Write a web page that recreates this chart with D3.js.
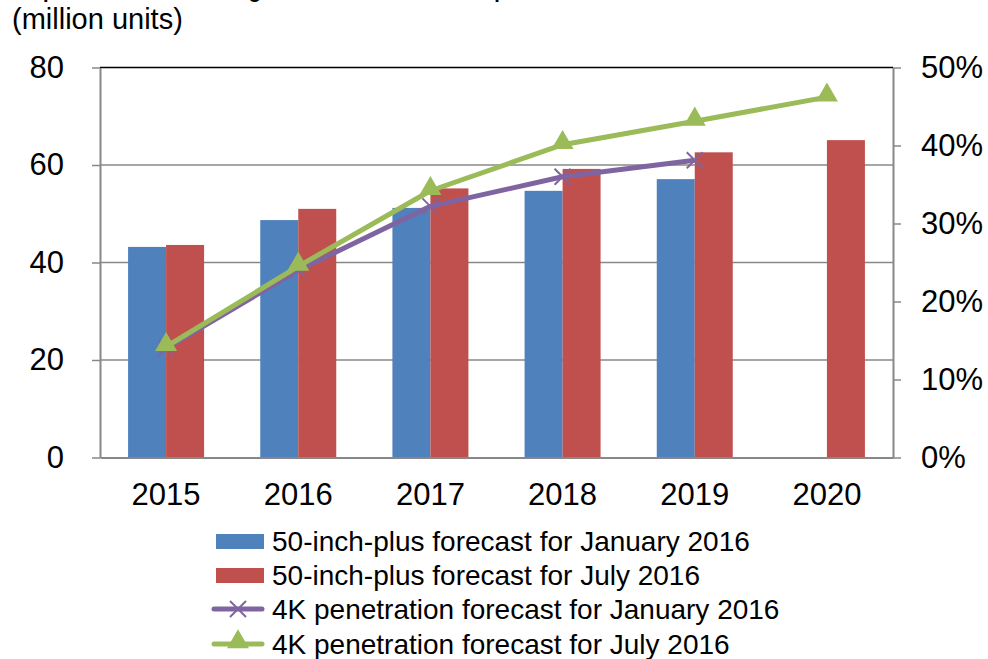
<!DOCTYPE html>
<html>
<head>
<meta charset="utf-8">
<script src="https://cdn.jsdelivr.net/npm/d3@7"></script>
<style>
  html, body { margin: 0; padding: 0; background: #fff; }
  svg { display: block; font-family: Arial, "Liberation Sans", sans-serif; }
</style>
</head>
<body>
<svg id="chart" width="988" height="659"></svg>
<script>
"use strict";

// Categories on the x axis
const years = ["2015", "2016", "2017", "2018", "2019", "2020"];

// 50-inch-plus shipments, million units
const janUnits = [43.2, 48.7, 51.2, 54.7, 57.1, null];
const julUnits = [43.6, 51.0, 55.2, 59.2, 62.6, 65.1];

// 4K penetration, share of shipments
const janShare = [0.140, 0.240, 0.322, 0.360, 0.381, null];
const julShare = [0.142, 0.245, 0.342, 0.401, 0.431, 0.462];

// Tick values
const leftTicks = [0, 20, 40, 60, 80];
const rightTicks = [0, 0.1, 0.2, 0.3, 0.4, 0.5];

const legendLabels = [
    "50-inch-plus forecast for January 2016",
    "50-inch-plus forecast for July 2016",
    "4K penetration forecast for January 2016",
    "4K penetration forecast for July 2016"
];

const colors = {blue: "#4F81BD", red: "#C0504D", purple: "#8064A2", green: "#9BBB59", grid: "#888888"};

const svg = d3.select("#chart");

const plot = {left: 100, right: 893, top: 67.5, bottom: 457.5};

const x = d3.scaleBand().domain(years).range([plot.left, plot.right]);
const y = d3.scaleLinear().domain([0, 80]).range([plot.bottom, plot.top]);
const yRight = d3.scaleLinear().domain([0, 0.5]).range([plot.bottom, plot.top]);
const barWidth = 38;
const center = (d) => x(d) + x.bandwidth() / 2;

// title, cut off at the top edge of the picture
svg.append("text")
    .attr("x", 12).attr("y", -2)
    .attr("font-size", 20).attr("font-weight", "bold")
    .text("Shipment forecast for large-screen TVs and 4K TV penetration");

svg.append("text")
    .attr("x", 12).attr("y", 29)
    .attr("font-size", 29)
    .text("(million units)");

// gridlines
svg.append("g").selectAll("line")
    .data([20, 40, 60])
    .join("line")
    .attr("x1", plot.left).attr("x2", plot.right)
    .attr("y1", (d) => y(d)).attr("y2", (d) => y(d))
    .attr("stroke", colors.grid).attr("stroke-width", 1.5);

svg.append("line")
    .attr("x1", plot.left).attr("x2", plot.right)
    .attr("y1", y(80)).attr("y2", y(80))
    .attr("stroke", "#000").attr("stroke-width", 1.5);

// bars
const bars = svg.append("g");
bars.selectAll("rect.jan")
    .data(years.map((d, i) => ({year: d, v: janUnits[i]})).filter((d) => d.v !== null))
    .join("rect")
    .attr("class", "jan")
    .attr("x", (d) => center(d.year) - barWidth)
    .attr("width", barWidth)
    .attr("y", (d) => y(d.v))
    .attr("height", (d) => y(0) - y(d.v))
    .attr("fill", colors.blue);
bars.selectAll("rect.jul")
    .data(years.map((d, i) => ({year: d, v: julUnits[i]})))
    .join("rect")
    .attr("class", "jul")
    .attr("x", (d) => center(d.year))
    .attr("width", barWidth)
    .attr("y", (d) => y(d.v))
    .attr("height", (d) => y(0) - y(d.v))
    .attr("fill", colors.red);

// axes
function styleAxis(g) {
    g.select(".domain").attr("stroke", colors.grid).attr("stroke-width", 2);
    g.selectAll(".tick line").attr("stroke", colors.grid).attr("stroke-width", 1.5);
    g.selectAll("text").attr("font-size", 31).attr("fill", "#000");
    g.attr("font-family", null);
}

svg.append("g")
    .attr("transform", `translate(${plot.left},0)`)
    .call(d3.axisLeft(y).tickValues(leftTicks).tickSize(8).tickSizeOuter(0).tickPadding(28))
    .call(styleAxis);

svg.append("g")
    .attr("transform", `translate(${plot.right},0)`)
    .call(d3.axisRight(yRight).tickValues(rightTicks).tickFormat(d3.format(".0%")).tickSize(8).tickSizeOuter(0).tickPadding(20))
    .call(styleAxis);

svg.append("g")
    .attr("transform", `translate(0,${plot.bottom})`)
    .call(d3.axisBottom(x).tickSize(0).tickPadding(25))
    .call(styleAxis);

// lines
const lineGen = d3.line()
    .defined((d) => d.v !== null)
    .x((d) => center(d.year))
    .y((d) => yRight(d.v));

const janPts = years.map((d, i) => ({year: d, v: janShare[i]})).filter((d) => d.v !== null);
const julPts = years.map((d, i) => ({year: d, v: julShare[i]}));

const triangle = d3.symbol().type(d3.symbolTriangle).size(210);
const cross = "M-8,-8L8,8M-8,8L8,-8";

svg.append("path")
    .datum(janPts)
    .attr("d", lineGen)
    .attr("fill", "none").attr("stroke", colors.purple).attr("stroke-width", 5)
    .attr("stroke-linejoin", "round");
svg.append("g").selectAll("path")
    .data(janPts)
    .join("path")
    .attr("transform", (d) => `translate(${center(d.year)},${yRight(d.v)})`)
    .attr("d", cross)
    .attr("stroke", colors.purple).attr("stroke-width", 2).attr("fill", "none");

svg.append("path")
    .datum(julPts)
    .attr("d", lineGen)
    .attr("fill", "none").attr("stroke", colors.green).attr("stroke-width", 5)
    .attr("stroke-linejoin", "round");
svg.append("g").selectAll("path")
    .data(julPts)
    .join("path")
    .attr("transform", (d) => `translate(${center(d.year)},${yRight(d.v) - 2})`)
    .attr("d", triangle)
    .attr("fill", colors.green);

// legend
const legend = svg.append("g");
const rowY = [541, 575, 609, 644];

legendLabels.forEach((label, i) => {
    const row = legend.append("g").attr("transform", `translate(0,${rowY[i]})`);
    if (i < 2) {
        row.append("rect")
            .attr("x", 216).attr("y", -7).attr("width", 48).attr("height", 15)
            .attr("fill", i === 0 ? colors.blue : colors.red);
    } else {
        const c = i === 2 ? colors.purple : colors.green;
        row.append("line")
            .attr("x1", 214).attr("x2", 262).attr("y1", 0).attr("y2", 0)
            .attr("stroke", c).attr("stroke-width", 5).attr("stroke-linecap", "round");
        if (i === 2) {
            row.append("path").attr("transform", "translate(238,0)")
                .attr("d", cross).attr("stroke", c).attr("stroke-width", 2);
        } else {
            row.append("path").attr("transform", "translate(238,-2)")
                .attr("d", triangle).attr("fill", c);
        }
    }
    row.append("text")
        .attr("x", 272).attr("y", 10)
        .attr("font-size", 28)
        .text(label);
});
</script>
</body>
</html>
